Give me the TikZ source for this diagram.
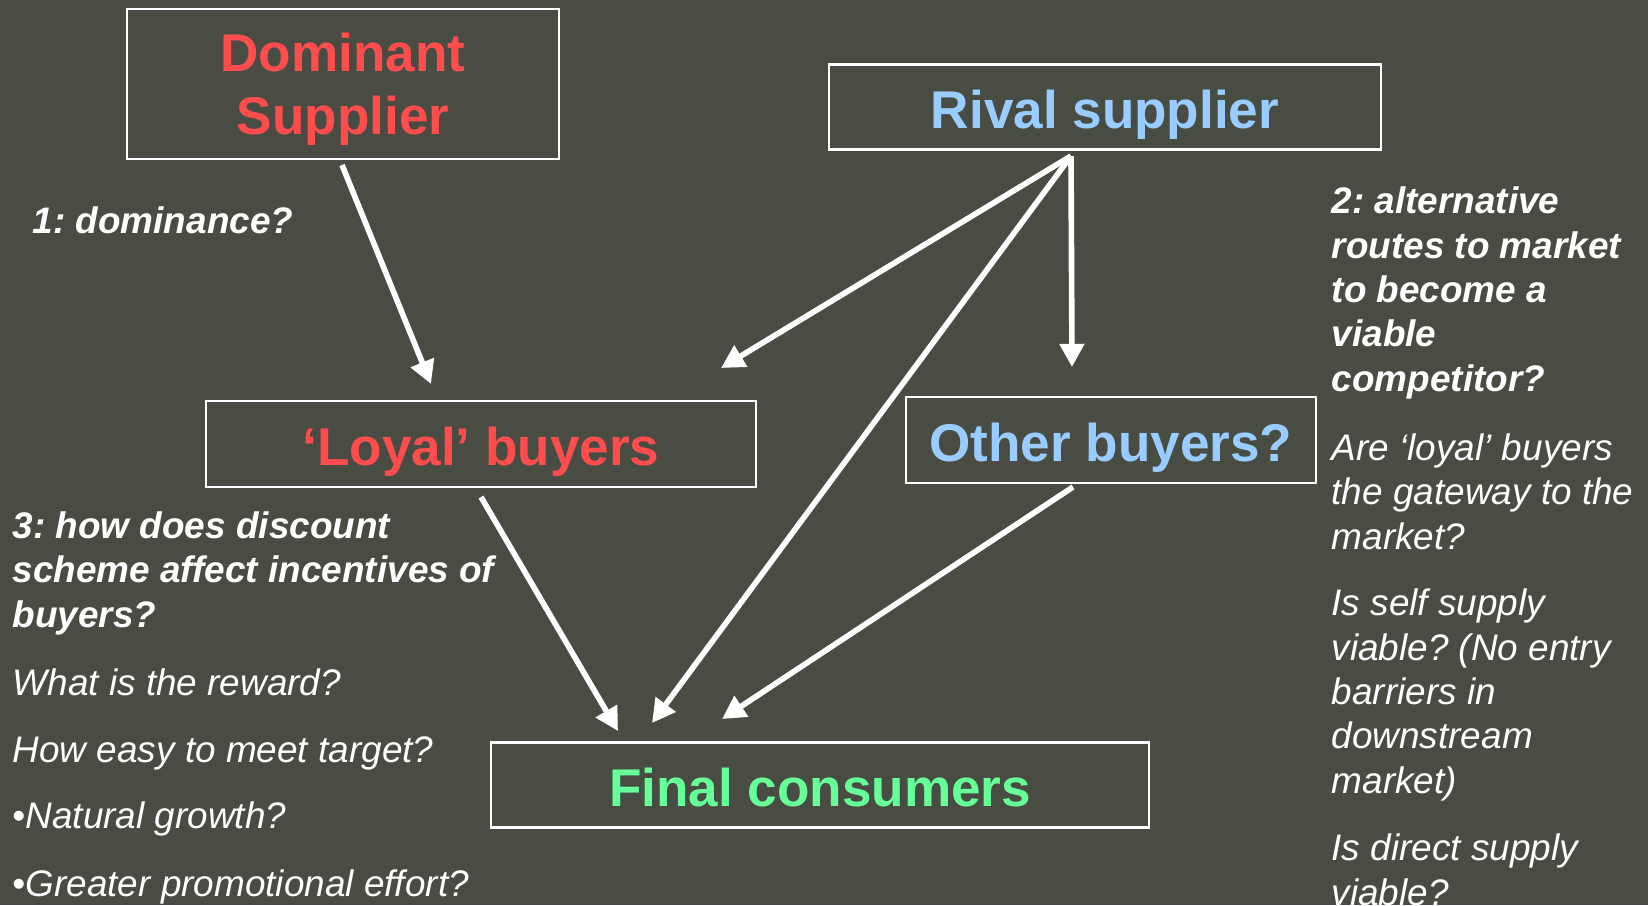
\documentclass[tikz,border=0pt]{standalone}
\usepackage{fontspec}
\setmainfont{Liberation Sans}
\usetikzlibrary{arrows.meta}
\frenchspacing

\definecolor{slate}{RGB}{72,76,67}
\definecolor{domred}{RGB}{255,77,77}
\definecolor{rivalblue}{RGB}{153,204,255}
\definecolor{finalgreen}{RGB}{102,255,153}

\tikzset{
  party/.style={draw=white, line width=0.6pt, inner sep=0pt, align=center,
    text depth=0pt, font=\bfseries\fontsize{15.1}{17.9}\selectfont},
  oneline/.style={text height=12pt},
  flow/.style={draw=white, line width=1.6pt, -{Triangle[length=6.6pt,width=6.8pt]}},
  % multi-line notes sit on the baseline of their last line
  note/.style={text=white, anchor=base west, align=left, inner sep=0pt,
    font=\itshape\fontsize{10.5}{12.6}\selectfont},
  question/.style={note, font=\bfseries\itshape\fontsize{10.5}{12.6}\selectfont},
}

\begin{document}
\begin{tikzpicture}[x=0.01cm, y=-0.01cm]

% The background
\useasboundingbox (0,0) rectangle (1648,905);
\fill[slate] (0,0) rectangle (1648,905);
\clip (0,0) rectangle (1648,905);

% The boxes
\node[party, text=domred, minimum width=4.32cm, minimum height=1.50cm] (dom) at (343,84) {Dominant\\Supplier};
\node[party, oneline, text=rivalblue, minimum width=5.51cm, minimum height=0.85cm] (rival) at (1105,107) {Rival supplier};
\node[party, oneline, text=domred, minimum width=5.49cm, minimum height=0.86cm] (loyal) at (481,444) {‘Loyal’ buyers};
\node[party, oneline, text=rivalblue, minimum width=4.10cm, minimum height=0.86cm] (other) at (1111,440) {Other buyers?};
\node[party, oneline, text=finalgreen, minimum width=6.57cm, minimum height=0.85cm] (final) at (820,785) {Final consumers};

% Arrow ends
\coordinate (dom out) at (342,165);
\coordinate (loyal top) at (431,384);
\coordinate (rival out) at (1071,156);
\coordinate (loyal corner) at (721,368);
\coordinate (other top) at (1072,367);
\coordinate (loyal out) at (481,497);
\coordinate (other out) at (1073,487);
\coordinate (final left) at (618,731);
\coordinate (final mid) at (652,723);
\coordinate (final right) at (722,719);

% Arrows
\draw[flow] (dom out) -- (loyal top);
\draw[flow] (rival out) -- (loyal corner);
\draw[flow] (rival out) -- (final mid);
\draw[flow] (rival out) -- (other top);
\draw[flow] (loyal out) -- (final left);
\draw[flow] (other out) -- (final right);

% Questions on the left
\node[question] (q1) at (32,233) {1: dominance?};
\node[question] (q3) at (12,627) {3: how does discount\\scheme affect incentives of\\buyers?};
\node[note] (reward) at (12,695) {What is the reward?};
\node[note] (target) at (12,762) {How easy to meet target?};
\node[note] (growth) at (12,828) {•Natural growth?};
\node[note] (effort) at (12,896) {•Greater promotional effort?};

% Questions on the right
\node[question] (q2) at (1331,391) {2: alternative\\routes to market\\to become a\\viable\\competitor?};
\node[note] (gateway) at (1331,549) {Are ‘loyal’ buyers\\the gateway to the\\market?};
\node[note] (self) at (1331,793) {Is self supply\\viable? (No entry\\barriers in\\downstream\\market)};
\node[note] (direct) at (1331,905) {Is direct supply\\viable?};

\end{tikzpicture}
\end{document}
